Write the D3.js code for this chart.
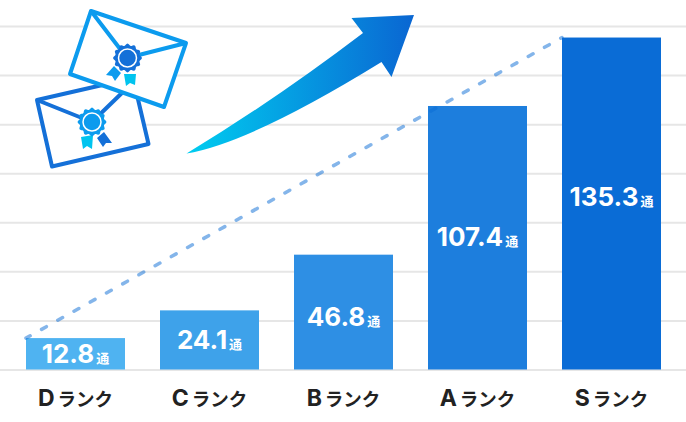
<!DOCTYPE html>
<html>
<head>
<meta charset="utf-8">
<script src="https://cdn.jsdelivr.net/npm/d3@7"></script>
<style>
  html, body { margin: 0; padding: 0; background: #fff; }
  svg { display: block; }
  text { font-family: Inter, "Noto Sans CJK JP", sans-serif; }
</style>
</head>
<body>
<div id="chart"></div>
<script>
const ranks = ['Dランク', 'Cランク', 'Bランク', 'Aランク', 'Sランク'];
const values = [12.8, 24.1, 46.8, 107.4, 135.3];
const barColors = ['#4fb3f1', '#3ea2ea', '#2e8fe4', '#1d7edd', '#0a6cd6'];
const gridTicks = [0, 20, 40, 60, 80, 100, 120, 140];

const width = 686, height = 422;
const baseY = 369.5, topY = 26;

const svg = d3.select('#chart').append('svg')
    .attr('width', width)
    .attr('height', height);

const x = d3.scaleBand()
    .domain(ranks)
    .range([26, 661])
    .paddingInner(35 / 134);

const y = d3.scaleLinear()
    .domain([0, 140])
    .range([baseY, topY]);

// gridlines
const grid = svg.append('g')
    .call(d3.axisLeft(y).tickValues(gridTicks).tickSize(-width).tickFormat(''));
grid.select('.domain').remove();
grid.selectAll('line').attr('stroke', '#e6e6e6').attr('stroke-width', 2);

// bars
svg.append('g').selectAll('rect')
    .data(values)
    .join('rect')
    .attr('x', (d, i) => x(ranks[i]))
    .attr('y', d => y(d))
    .attr('width', x.bandwidth())
    .attr('height', d => y(0) - y(d))
    .attr('fill', (d, i) => barColors[i]);

// dashed trend line, first bar corner to last bar corner
const trend = d3.line().x(d => d[0]).y(d => d[1]);
svg.append('path')
    .attr('d', trend([
        [x(ranks[0]), y(values[0])],
        [x(ranks[4]), y(values[4])]
    ]))
    .attr('fill', 'none')
    .attr('stroke', '#0a6cd6')
    .attr('stroke-opacity', 0.5)
    .attr('stroke-width', 3.5)
    .attr('stroke-linecap', 'round')
    .attr('stroke-dasharray', '5.5 13.1')
    .attr('stroke-dashoffset', 0.75);

// value labels, nudged per bar the way the original sits
const labelNudge = [0, 0, 4, -1, -7];
const labels = svg.append('g').selectAll('text')
    .data(values)
    .join('text')
    .attr('x', (d, i) => x(ranks[i]) + x.bandwidth() / 2)
    .attr('y', (d, i) => y(d / 2) + 9.5 + labelNudge[i])
    .attr('text-anchor', 'middle')
    .attr('fill', '#fff')
    .attr('font-weight', 700);
labels.append('tspan').attr('font-size', 26).text(d => d.toFixed(1));
labels.append('tspan').attr('font-size', 13).attr('dx', 2).text('通');

// category axis, latin letter set larger than the katakana
const axis = svg.append('g')
    .attr('transform', `translate(0,${baseY})`)
    .call(d3.axisBottom(x).tickSize(0).tickFormat(''));
axis.select('.domain').remove();
const axisText = axis.selectAll('text')
    .data(ranks)
    .attr('y', 36.5)
    .attr('dy', 0)
    .attr('fill', '#222')
    .attr('font-weight', 700)
    .style('font-family', 'Inter, "Noto Sans CJK JP", sans-serif');
axisText.append('tspan').attr('font-size', 23).text(d => d.slice(0, 1));
axisText.append('tspan').attr('font-size', 18.5).attr('dx', 3).text(d => d.slice(1));

// arrow
const defs = svg.append('defs');
const grad = defs.append('linearGradient')
    .attr('id', 'arrowGrad')
    .attr('gradientUnits', 'userSpaceOnUse')
    .attr('x1', 187).attr('y1', 0).attr('x2', 414).attr('y2', 0);
grad.append('stop').attr('offset', 0).attr('stop-color', '#00cdf0');
grad.append('stop').attr('offset', 1).attr('stop-color', '#0a66d2');

svg.append('path')
    .attr('d', 'M186.5,153.5 Q275,100 363,33 L351.5,18 L414,15 L391.5,77 L381.5,62 Q250,143 186.5,153.5 Z')
    .attr('fill', 'url(#arrowGrad)');

// envelope icons
const drawSeal = (g, cx, cy, outer, inner) => {
    const pts = d3.range(96).map(i => {
        const a = i / 96 * 2 * Math.PI;
        const r = 13.4 + 1 * Math.cos(a * 12);
        return [cx + r * Math.sin(a), cy - r * Math.cos(a)];
    });
    g.append('path').attr('d', d3.line()(pts) + 'Z').attr('fill', outer);
    g.append('circle').attr('cx', cx).attr('cy', cy).attr('r', 9)
        .attr('fill', 'none').attr('stroke', '#fff').attr('stroke-width', 1.5);
    g.append('circle').attr('cx', cx).attr('cy', cy).attr('r', 7).attr('fill', inner);
};

const icon = svg.append('g');

// back envelope
const env2 = icon.append('g')
    .attr('fill', 'none')
    .attr('stroke', '#1470d8')
    .attr('stroke-width', 4)
    .attr('stroke-linejoin', 'round');
env2.append('path').attr('d', 'M37,100 L133,78 L148.5,144 L52,166.5 Z').attr('fill', '#fff');
env2.append('path').attr('d', 'M37,100 L92,122 L125,90');
icon.append('path').attr('d', 'M81,137 L93,135 L92,149 L87,146 L83,149 Z').attr('fill', '#00c4ef');
icon.append('path').attr('d', 'M104,132 L112,143 L106,143 L103,147 L97,138 Z').attr('fill', '#1470d8');
drawSeal(icon, 92, 122, '#0c9bee', '#0c9bee');

// front envelope
const env1 = icon.append('g')
    .attr('fill', 'none')
    .attr('stroke', '#0c9bee')
    .attr('stroke-width', 4)
    .attr('stroke-linejoin', 'round');
env1.append('path').attr('d', 'M91,11 L186,43 L164,107 L70,74 Z').attr('fill', '#fff');
env1.append('path').attr('d', 'M91,11 L127,58 L186,43');
icon.append('path').attr('d', 'M124,74 L136,74 L135,85 L130,83 L126,86 Z').attr('fill', '#00c4ef');
icon.append('path').attr('d', 'M114,66 L121,73 L115,81 L112,76 L106,75 Z').attr('fill', '#0c9bee');
drawSeal(icon, 127.5, 58, '#1470d8', '#1470d8');
</script>
</body>
</html>
